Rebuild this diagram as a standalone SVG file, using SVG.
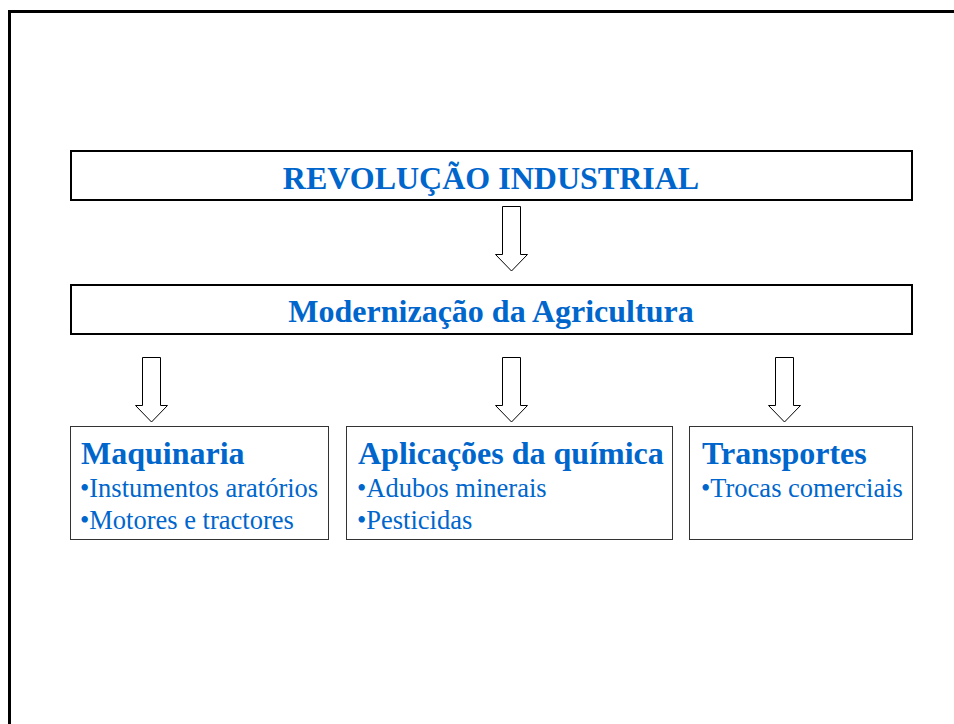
<svg xmlns="http://www.w3.org/2000/svg" width="954" height="724" viewBox="0 0 954 724">
<style>
.frame{fill:none;stroke:#000;stroke-width:3}
.box{fill:#fff;stroke:#000;stroke-width:2}
.sbox{fill:#fff;stroke:#333;stroke-width:1}
.arr{fill:#fff;stroke:#000;stroke-width:1}
.h{font-family:"Liberation Serif","Times New Roman",serif;font-weight:bold;font-size:32px;fill:#0066CC}
.b{font-family:"Liberation Serif","Times New Roman",serif;font-size:26.5px;fill:#0066CC}
</style>
<rect width="954" height="724" fill="#fff"/>
<path class="frame" d="M9.5,724 V11.5 H954"/>
<g id="revolucao">
<rect class="box" x="71" y="151" width="841" height="49"/>
<text class="h" x="491" y="188.5" text-anchor="middle">REVOLUÇÃO INDUSTRIAL</text>
</g>
<g id="modernizacao">
<rect class="box" x="71" y="285" width="841" height="49"/>
<text class="h" x="491" y="322" text-anchor="middle">Modernização da Agricultura</text>
</g>
<g id="maquinaria">
<rect class="sbox" x="70.5" y="426.5" width="258" height="113"/>
<text class="h" x="81" y="464">Maquinaria</text>
<text class="b" x="80" y="497">•Instumentos aratórios</text>
<text class="b" x="80" y="529">•Motores e tractores</text>
</g>
<g id="quimica">
<rect class="sbox" x="346.5" y="426.5" width="326" height="113"/>
<text class="h" x="358" y="464">Aplicações da química</text>
<text class="b" x="357" y="497">•Adubos minerais</text>
<text class="b" x="357" y="529">•Pesticidas</text>
</g>
<g id="transportes">
<rect class="sbox" x="689.5" y="426.5" width="223" height="113"/>
<text class="h" x="702" y="464">Transportes</text>
<text class="b" x="701" y="497">•Trocas comerciais</text>
</g>
<g id="connectors">
<polygon class="arr" points="502.5,206.5 520.5,206.5 520.5,254.5 527.5,254.5 511.5,271 495.5,254.5 502.5,254.5"/>
<polygon class="arr" points="142.5,357.5 160.5,357.5 160.5,405.5 167.5,405.5 151.5,422 135.5,405.5 142.5,405.5"/>
<polygon class="arr" points="502.5,357.5 520.5,357.5 520.5,405.5 527.5,405.5 511.5,422 495.5,405.5 502.5,405.5"/>
<polygon class="arr" points="775.5,357.5 793.5,357.5 793.5,405.5 800.5,405.5 784.5,422 768.5,405.5 775.5,405.5"/>
</g>
</svg>
